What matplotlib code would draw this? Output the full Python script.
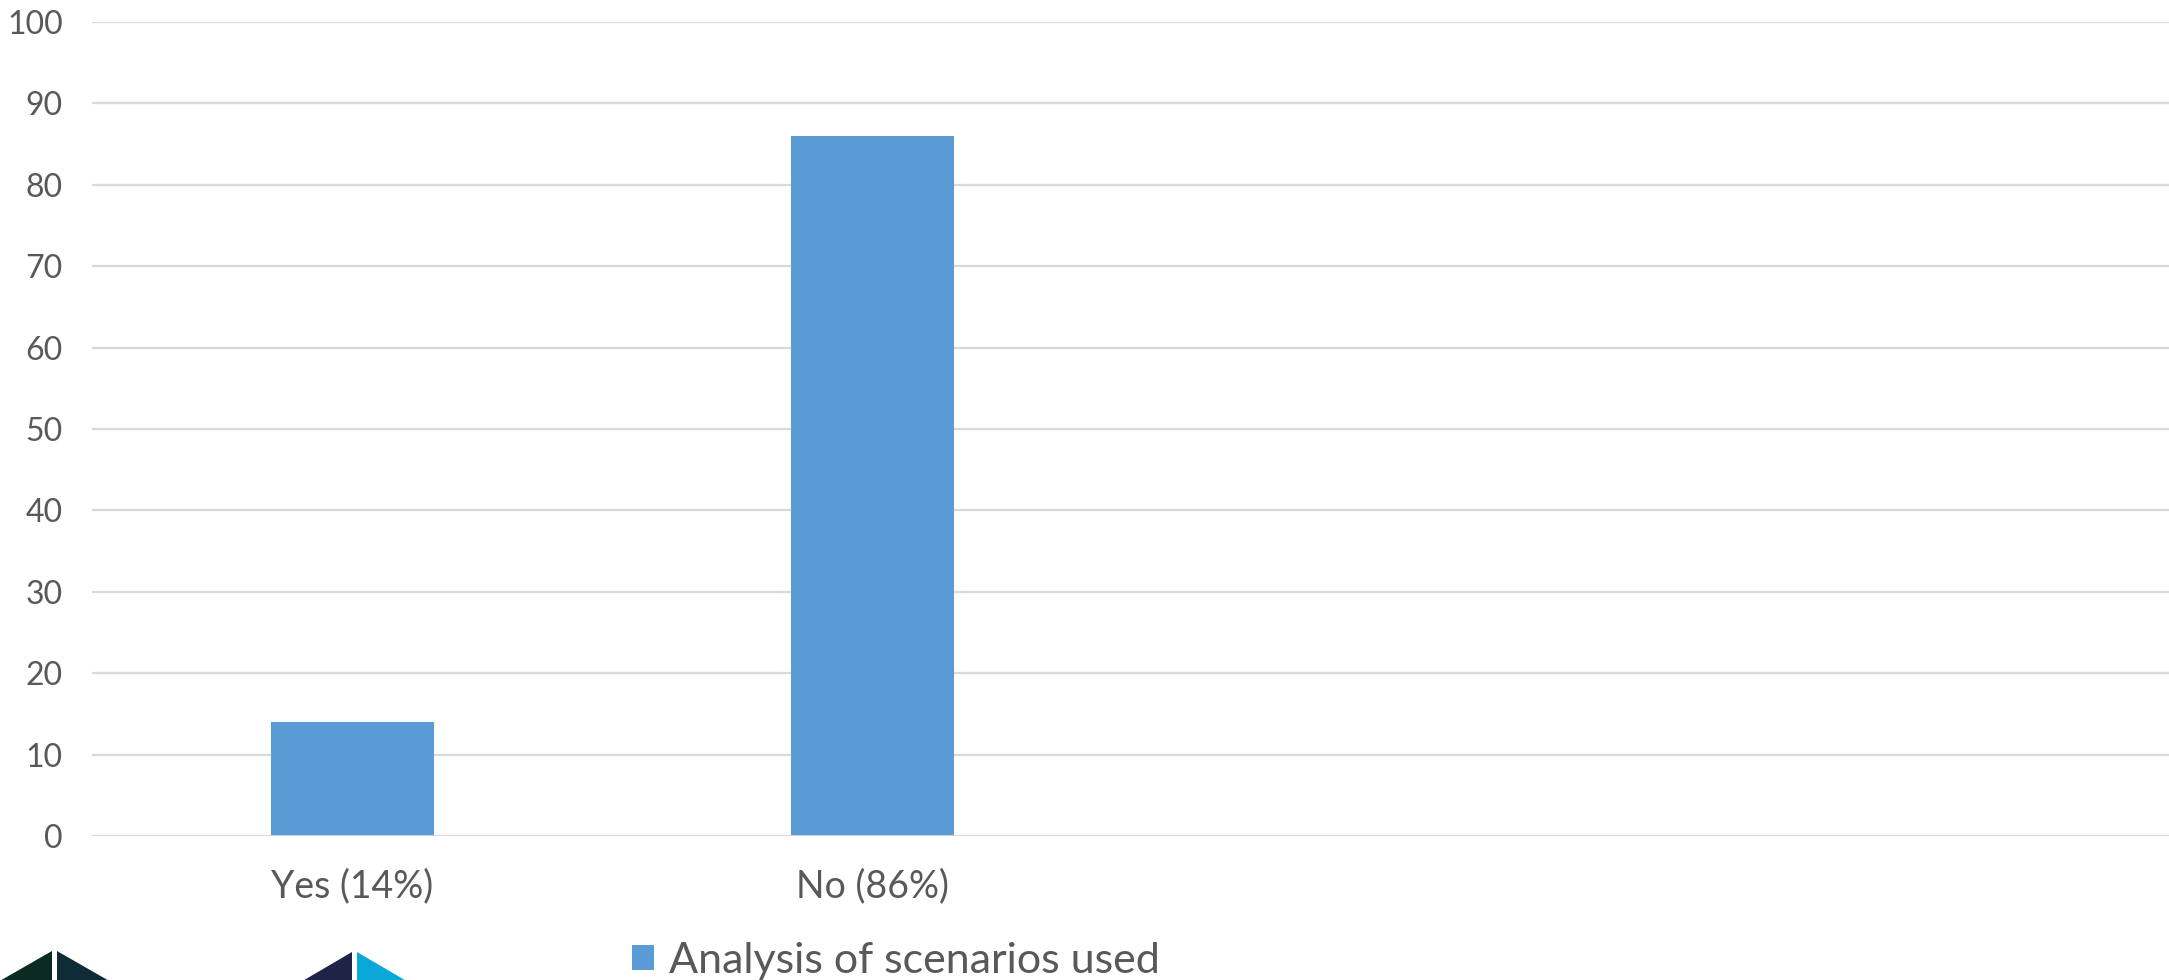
import matplotlib
matplotlib.use("Agg")
import matplotlib.pyplot as plt
from matplotlib.patches import Polygon, Patch
from matplotlib import font_manager

# Survey result: share of respondents who used an analysis of scenarios
categories = ["Yes (14%)", "No (86%)", "", ""]
values = [14, 86, None, None]
series_name = "Analysis of scenarios used"
y_ticks = [0, 10, 20, 30, 40, 50, 60, 70, 80, 90, 100]

W, H = 2169, 980
BAR = "#5B9BD5"
TEXT = "#595959"
GRID = "#D9D9D9"

names = {f.name for f in font_manager.fontManager.ttflist}
family = "Lato" if "Lato" in names else "DejaVu Sans"
plt.rcParams["font.family"] = [family, "DejaVu Sans"]

fig = plt.figure(figsize=(W / 100, H / 100), dpi=100)
ax = fig.add_axes([92 / W, 1 - 836 / H, 1 - 92 / W + 0.002, (836 - 22) / H])

xs = [i for i, v in enumerate(values) if v is not None]
ys = [values[i] for i in xs]
ax.bar(xs, ys, width=0.313, color=BAR, zorder=3)

ax.set_xlim(-0.5, len(categories) - 0.5)
ax.set_ylim(0, 100)
ax.set_yticks(y_ticks)
ax.set_yticklabels([str(t) for t in y_ticks], fontsize=23, color=TEXT)
ax.set_xticks(range(len(categories)))
ax.set_xticklabels(categories, fontsize=27, color=TEXT)
ax.tick_params(axis="both", length=0)
ax.tick_params(axis="y", pad=21)
ax.tick_params(axis="x", pad=23)
ax.grid(axis="y", color=GRID, linewidth=1.6, zorder=0)
for s in ax.spines.values():
    s.set_visible(False)
ax.axhline(0, color=GRID, linewidth=2, zorder=4)

# legend
fig.legend(handles=[Patch(facecolor=BAR, label=series_name)],
           loc="center left", bbox_to_anchor=(623 / W, 1 - 961 / H),
           frameon=False, labelcolor=TEXT,
           handlelength=0.52, handleheight=0.52, handletextpad=0.35,
           borderaxespad=0, borderpad=0.2,
           prop={"family": [family, "DejaVu Sans"], "size": 31})

# logo marks in the lower left corner (pixel coordinates)
def tri(points, color):
    pts = [(x / W, 1 - y / H) for x, y in points]
    fig.patches.append(Polygon(pts, closed=True, facecolor=color, edgecolor="none",
                               transform=fig.transFigure, figure=fig))

tri([(52, 951), (52, 986), (-9, 986)], "#0B2A22")
tri([(57, 951), (57, 986), (118, 986)], "#0E2B36")
tri([(352, 952), (352, 986), (294, 986)], "#1F2347")
tri([(357, 952), (357, 986), (415, 986)], "#0AA8D8")

fig.savefig("out.png", dpi=100)
